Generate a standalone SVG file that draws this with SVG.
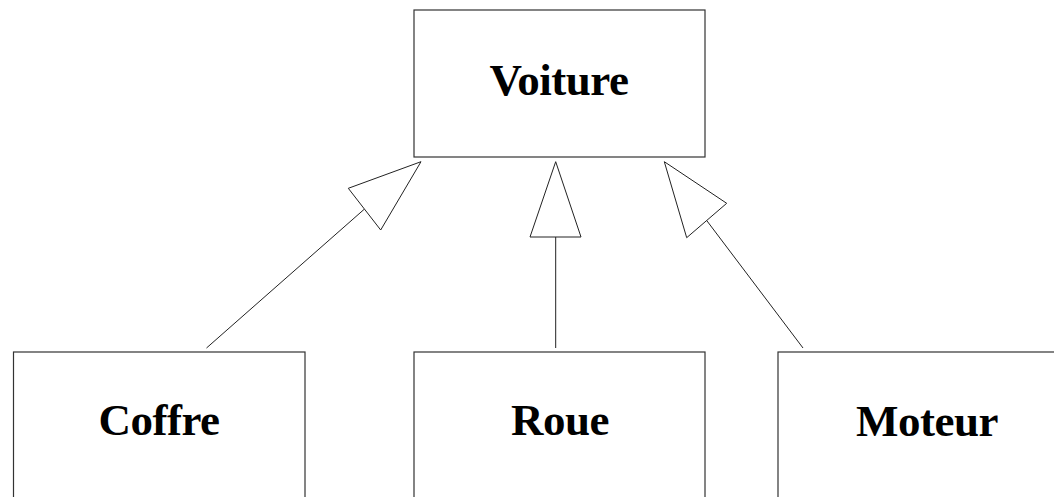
<svg xmlns="http://www.w3.org/2000/svg" width="1054" height="497" viewBox="0 0 1054 497">
<style>
.box{fill:#fff;stroke:#333;stroke-width:1.2}
.lbl{font-family:"Liberation Serif","Times New Roman",serif;font-weight:bold;font-size:45px;letter-spacing:-0.5px;text-anchor:middle;fill:#000}
.edge{fill:none;stroke:#222;stroke-width:1}
.head{fill:#fff;stroke:#222;stroke-width:1}
</style>
<rect width="1054" height="497" fill="#fff"/>
<g id="connectors">
<line class="edge" x1="364.5" y1="209" x2="206.5" y2="348"/>
<polygon class="head" points="421,161.7 348.3,188.3 380.7,230"/>
<line class="edge" x1="555.7" y1="237" x2="555.7" y2="348"/>
<polygon class="head" points="555.7,161.7 530,237 581,237"/>
<line class="edge" x1="706.7" y1="220.5" x2="803" y2="348"/>
<polygon class="head" points="664.3,161.7 726.7,203.3 686.7,237.7"/>
</g>
<g id="voiture">
<rect class="box" x="414" y="10" width="291" height="147"/>
<text class="lbl" x="559" y="95">Voiture</text>
</g>
<g id="coffre">
<rect class="box" x="13.5" y="352" width="291.5" height="160"/>
<text class="lbl" x="159" y="435">Coffre</text>
</g>
<g id="roue">
<rect class="box" x="414" y="352" width="291" height="160"/>
<text class="lbl" x="560" y="435">Roue</text>
</g>
<g id="moteur">
<rect class="box" x="778" y="352" width="296" height="160"/>
<text class="lbl" x="927" y="436">Moteur</text>
</g>
</svg>
